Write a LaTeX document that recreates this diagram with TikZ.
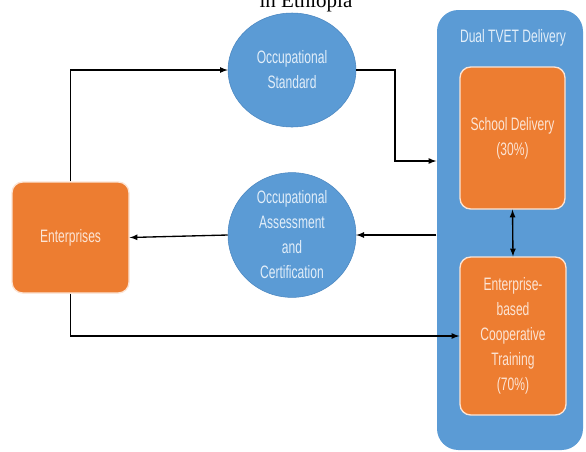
\documentclass[tikz,border=0pt]{standalone}
\usepackage{fontspec}
\setmainfont{Liberation Serif}
\newfontfamily\condfont[FakeStretch=0.67]{Liberation Sans}
\usetikzlibrary{shapes.geometric}

\definecolor{tvetblue}{HTML}{5B9BD5}
\definecolor{tvetblueline}{HTML}{4A86C0}
\definecolor{tvetorange}{HTML}{ED7D31}
\definecolor{bluetext}{HTML}{E2EEF9}
\definecolor{orangetext}{HTML}{FCE4D4}

\tikzset{
  circ/.style={ellipse, fill=tvetblue, draw=tvetblueline, line width=0.4pt,
    text=bluetext, align=center, inner sep=0pt},
  obox/.style={rectangle, rounded corners=8pt, fill=tvetorange, draw=orangetext,
    line width=1pt, text=orangetext, align=center, inner sep=0pt},
  lbl/.style={font=\condfont\fontsize{13.5}{18.75}\selectfont}
}

\begin{document}
\begin{tikzpicture}[x=0.75pt, y=-0.75pt, >=latex, line width=1pt]
    \useasboundingbox (0,0) rectangle (586,451);

    \node (title) [anchor=base] at (306,7) {\fontsize{15.75}{18}\selectfont in Ethiopia};

    % dual delivery block
    \node (tvet) [rectangle, rounded corners=16pt, fill=tvetblue, minimum width=109.5pt, minimum height=330pt] at (510,230) {};
    \node (tvettitle) [lbl, text=bluetext] at (513,38) {Dual TVET Delivery};
    \node (school) [obox, lbl, minimum width=78.75pt, minimum height=106.5pt] at (512.5,138) {School Delivery\\(30\%)};
    \node (coop) [obox, lbl, minimum width=79.5pt, minimum height=118.5pt] at (513,336) {Enterprise-\\based\\Cooperative\\Training\\(70\%)};

    \node (std) [circ, lbl, minimum width=96pt, minimum height=85.5pt] at (292,70) {Occupational\\Standard};
    \node (assess) [circ, lbl, minimum width=96pt, minimum height=87pt] at (292,235) {Occupational\\Assessment\\and\\Certification};
    \node (ent) [obox, lbl, minimum width=87.75pt, minimum height=83.25pt] at (70.5,237.5) {Enterprises};

    \coordinate (bend) at (395,161);

    \draw[->] (ent.north) |- (std.west);
    \draw[->] (std.east) -| (bend) -- (bend -| tvet.west);
    \draw[->] (assess.east -| tvet.west) -- (assess.east);
    \draw[->] (assess.west) -- (ent.east);
    \draw[->] (ent.south) |- (coop.west);
    \draw[<->] (school.south) -- (coop.north);
  \end{tikzpicture}
\end{document}
